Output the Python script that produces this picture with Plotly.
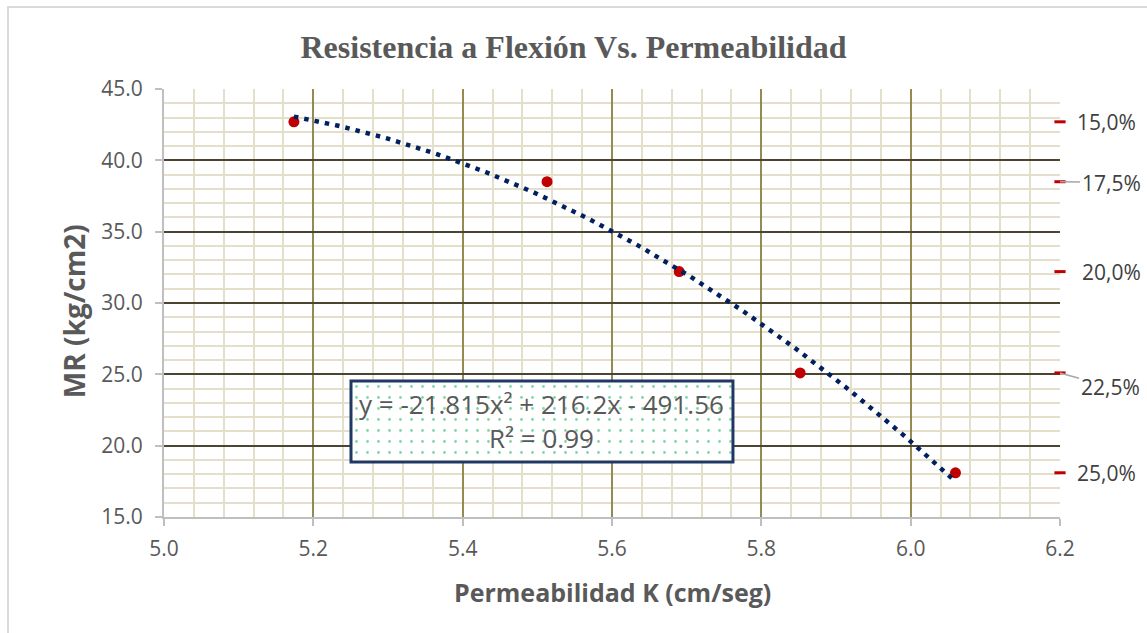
import numpy as np
import plotly.graph_objects as go

# Datos medidos
permeabilidad = [5.174, 5.513, 5.690, 5.852, 6.060]   # K (cm/seg)
mr = [42.7, 38.5, 32.2, 25.1, 18.1]                    # MR (kg/cm2)
porosidad = ["15,0%", "17,5%", "20,0%", "22,5%", "25,0%"]

# Línea de tendencia polinómica (grado 2)
coef = [-21.815, 216.2, -491.56]
r2 = 0.99

x_tick_vals = [5.0, 5.2, 5.4, 5.6, 5.8, 6.0, 6.2]
y_tick_vals = [15, 20, 25, 30, 35, 40, 45]

GRAY_TXT = "#595959"
AX_GRAY = "#bfbfbf"
FONT = "Open Sans"

xt = np.linspace(min(permeabilidad), max(permeabilidad), 200)
yt = np.polyval(coef, xt)

fig = go.Figure()

# puntos de ensayo
fig.add_trace(go.Scatter(
    x=permeabilidad, y=mr, mode="markers",
    marker=dict(color="#c00000", size=11),
    showlegend=False, cliponaxis=False,
))

# marcas de porosidad en el borde derecho
fig.add_trace(go.Scatter(
    x=[x_tick_vals[-1]] * len(mr), y=mr, mode="markers",
    marker=dict(symbol="line-ew", size=8, line=dict(color="#c00000", width=3)),
    showlegend=False, cliponaxis=False,
))

# tendencia
fig.add_trace(go.Scatter(
    x=xt, y=yt, mode="lines",
    line=dict(color="#002060", width=4.5, dash="4.5px,6px"),
    showlegend=False, cliponaxis=False,
))

# recuadro de la ecuación (relleno punteado)
fig.add_trace(go.Bar(
    x=[0.5], y=[1], width=[1], xaxis="x2", yaxis="y2",
    marker=dict(
        color="white",
        line=dict(width=0),
        pattern=dict(shape=".", size=11, solidity=0.05, fgcolor="#00b050",
                     fillmode="overlay"),
    ),
    showlegend=False, hoverinfo="skip",
))

box_x = [0.2087, 0.635]
box_y = [0.1285, 0.3178]

axis_common = dict(
    showline=True, linecolor=AX_GRAY, linewidth=2,
    ticks="outside", ticklen=7, tickcolor=AX_GRAY, tickwidth=2,
    tickfont=dict(family=FONT, size=21, color=GRAY_TXT),
    tickformat=".1f", zeroline=False, mirror=False,
)

fig.update_layout(
    width=1147, height=633,
    margin=dict(l=164, r=87, t=89, b=116),
    paper_bgcolor="white", plot_bgcolor="white",
    title=dict(
        text="<b>Resistencia a Flexión Vs. Permeabilidad</b>",
        x=0.5, xref="container", xanchor="center",
        y=1 - 47 / 633, yref="container", yanchor="middle",
        font=dict(family="Liberation Serif", size=32, color=GRAY_TXT),
    ),
    xaxis=dict(
        range=[5.0, 6.2], tickvals=x_tick_vals, ticklabelstandoff=5,
        showgrid=True, gridcolor="#948a54", gridwidth=2,
        minor=dict(dtick=0.04, showgrid=True, gridcolor="#e3dfca", gridwidth=2,
                   ticks=""),
        **axis_common,
    ),
    yaxis=dict(
        range=[15, 45], tickvals=y_tick_vals, ticklabelstandoff=8,
        showgrid=True, gridcolor="#4a4530", gridwidth=2,
        minor=dict(dtick=1, showgrid=True, gridcolor="#e3dfca", gridwidth=2,
                   ticks=""),
        **axis_common,
    ),
    xaxis2=dict(domain=box_x, range=[0, 1], visible=False, anchor="y2"),
    yaxis2=dict(domain=box_y, range=[0, 1], visible=False, anchor="x2"),
    bargap=0,
)

annotations = [
    dict(text="<b>MR (kg/cm2)</b>", xref="paper", yref="paper",
         x=(74 - 164) / 896, y=0.481, textangle=-90, showarrow=False,
         xanchor="center", yanchor="middle",
         font=dict(family=FONT, size=28, color=GRAY_TXT)),
    dict(text="<b>Permeabilidad K (cm/seg)</b>", xref="paper", yref="paper",
         x=0.5, y=-0.175, showarrow=False, xanchor="center", yanchor="middle",
         font=dict(family=FONT, size=25, color=GRAY_TXT)),
    dict(text=f"y = {coef[0]}x² + {coef[1]}x - {abs(coef[2])}<br>R² = {r2}",
         xref="paper", yref="paper",
         x=(box_x[0] + box_x[1]) / 2, y=(box_y[0] + box_y[1]) / 2,
         xanchor="center", yanchor="middle",
         showarrow=False, align="center",
         font=dict(family=FONT, size=26, color=GRAY_TXT)),
]

# etiquetas de porosidad (dos con línea guía)
offsets = {1: (51, 1), 3: (50, 14)}
for i, (yv, lab) in enumerate(zip(mr, porosidad)):
    if i in offsets:
        ax, ay = offsets[i]
        annotations.append(dict(
            x=x_tick_vals[-1], y=yv, xref="x", yref="y", text=lab,
            showarrow=True, arrowhead=0, arrowwidth=1.5, arrowcolor="#a6a6a6",
            ax=ax, ay=ay, font=dict(family=FONT, size=21, color="#404040"),
        ))
    else:
        annotations.append(dict(
            x=x_tick_vals[-1], y=yv, xref="x", yref="y", text=lab,
            showarrow=False, xanchor="left", xshift=15 if i != 2 else 20,
            font=dict(family=FONT, size=21, color="#404040"),
        ))

fig.update_layout(annotations=annotations)

# borde del recuadro de la ecuación
fig.add_shape(type="rect", xref="paper", yref="paper",
              x0=box_x[0], x1=box_x[1], y0=box_y[0], y1=box_y[1],
              line=dict(color="#1f3864", width=3), layer="above")

# marco exterior del gráfico
fig.add_shape(type="rect", xref="paper", yref="paper",
              x0=(8 - 164) / 896, x1=(1150 - 164) / 896,
              y0=(517 - 640) / 428, y1=(517 - 7) / 428,
              line=dict(color="#d9d9d9", width=2), layer="below")

fig.write_html("out.html")
